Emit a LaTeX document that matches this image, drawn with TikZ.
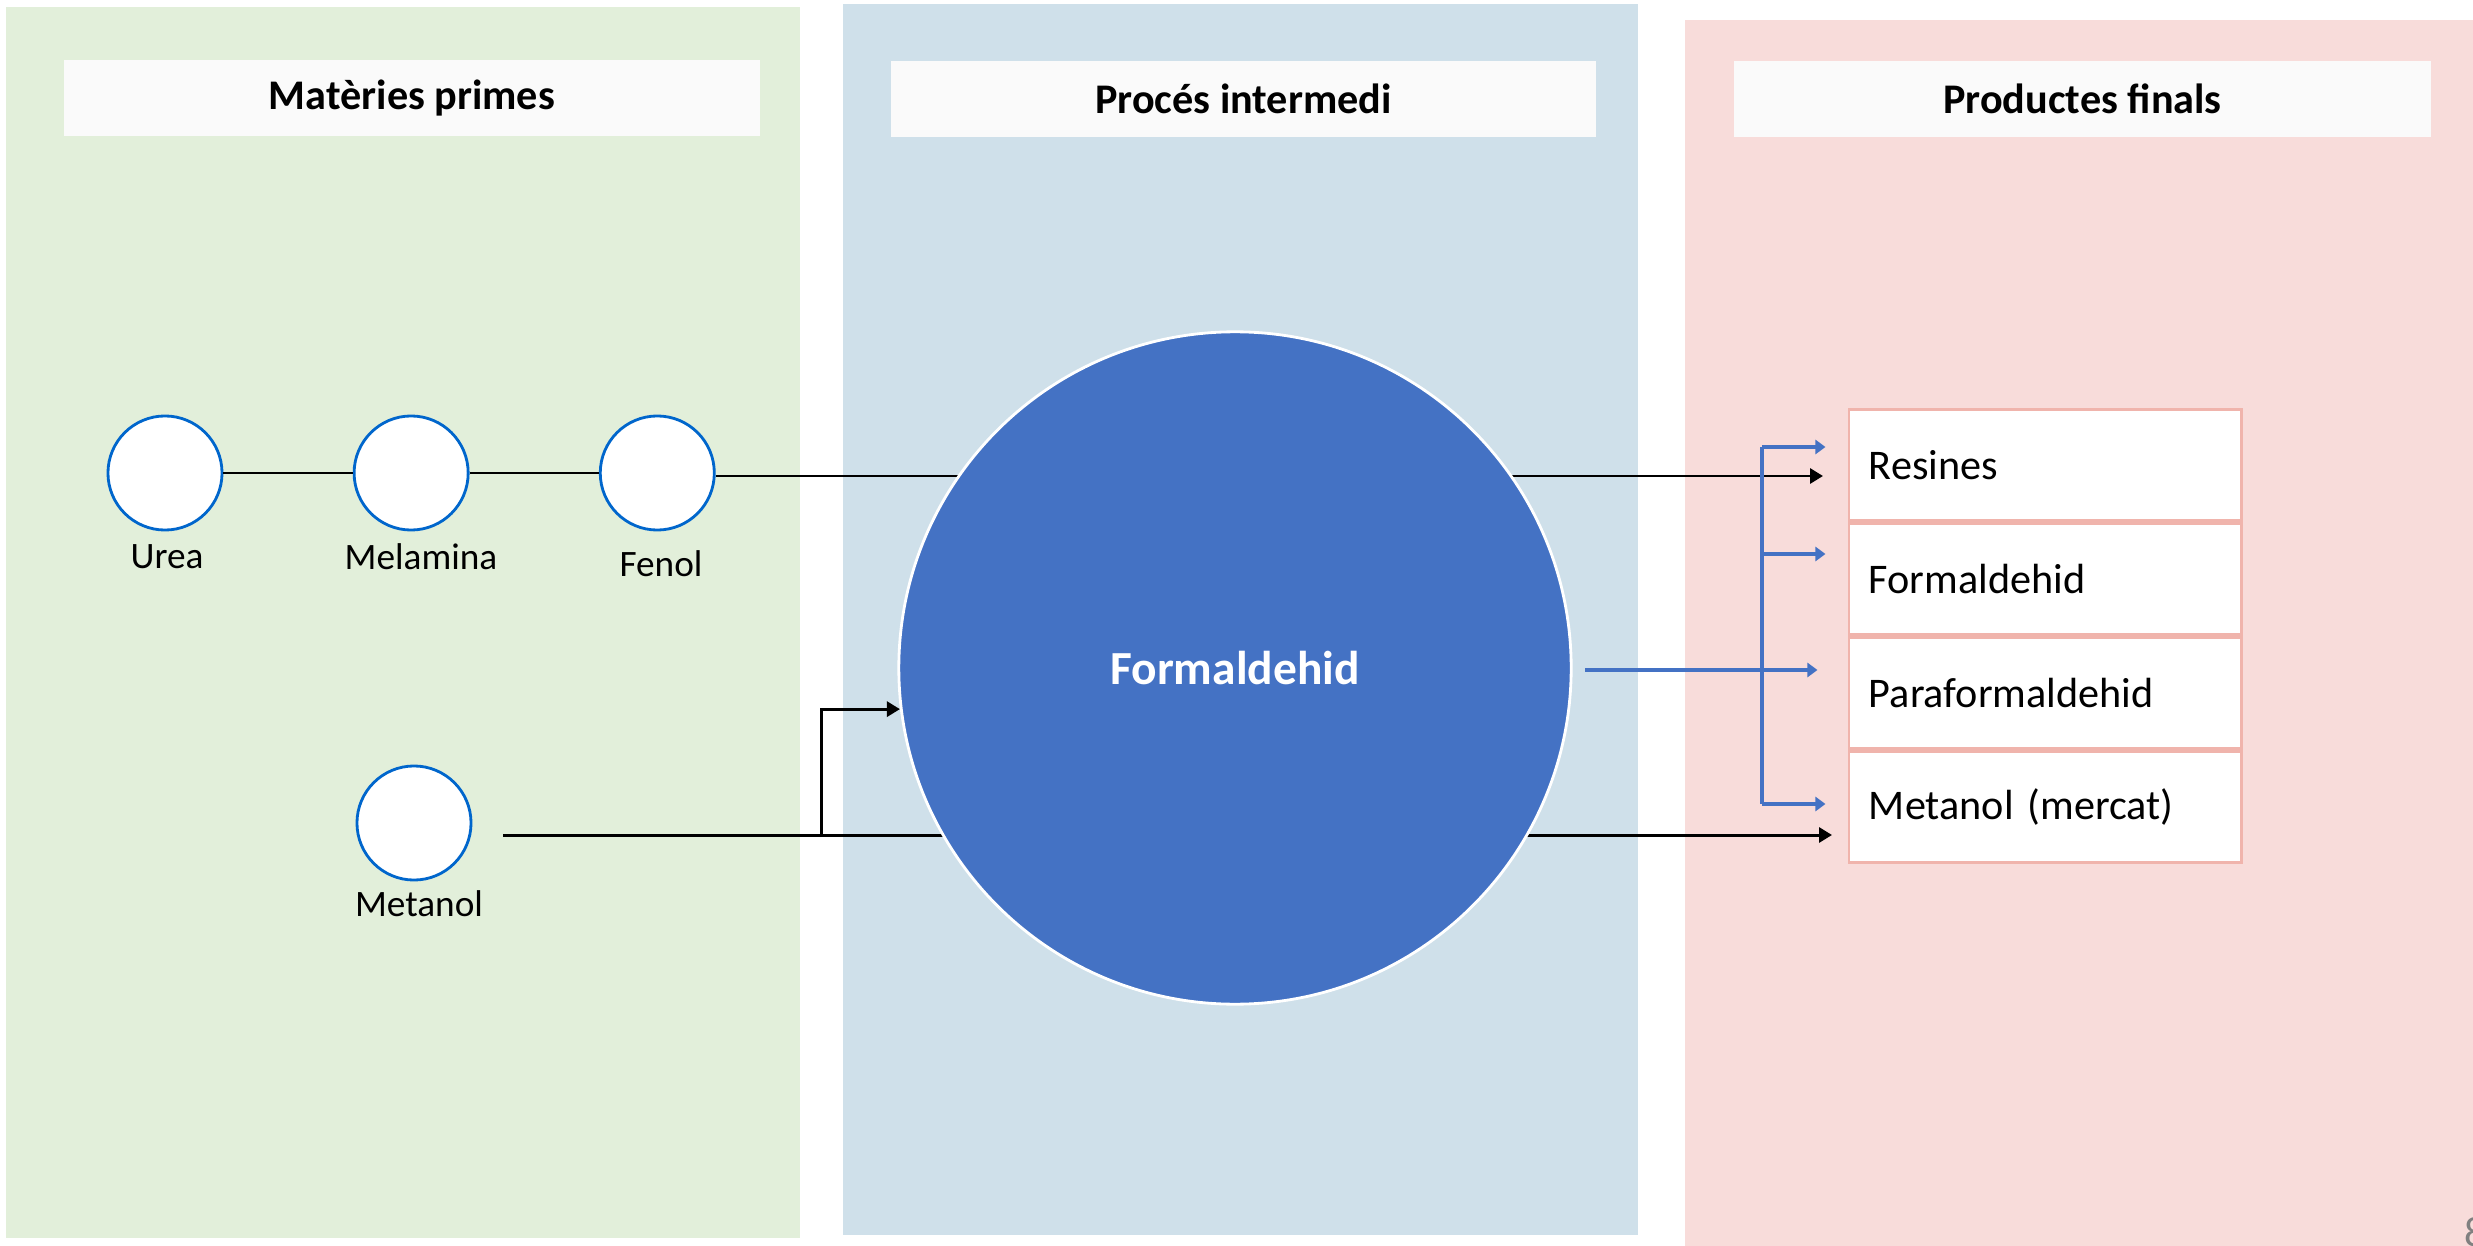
\documentclass[tikz,border=0pt]{standalone}
\usepackage{fontspec}
\setmainfont{Carlito}
\usepackage{xcolor}
\usetikzlibrary{arrows.meta,positioning}
\definecolor{matgreen}{HTML}{E2EFDA}
\definecolor{procblue}{HTML}{CFE0EA}
\definecolor{prodred}{HTML}{F8DCDA}
\definecolor{titlewhite}{HTML}{FAFAFA}
\definecolor{srcblue}{HTML}{0066CC}
\definecolor{hubblue}{HTML}{4472C4}
\definecolor{prodpink}{HTML}{F0B4AC}
\tikzset{%
  >={Triangle[width=1.5mm,length=1.3mm]},
  % Specifications for style of nodes:
       title/.style = {rectangle, fill=titlewhite, minimum height=0.76cm,
                       text centered, font=\fontsize{12pt}{14pt}\selectfont\bfseries},
      source/.style = {circle, draw=srcblue, line width=0.8pt, fill=white,
                       minimum size=1.14cm, inner sep=0pt},
    srclabel/.style = {font=\fontsize{10.6pt}{12pt}\selectfont},
         hub/.style = {circle, draw=white, line width=0.8pt, fill=hubblue,
                       minimum size=6.72cm, inner sep=0pt, text=white,
                       font=\fontsize{13.5pt}{16pt}\selectfont\bfseries},
     product/.style = {rectangle, draw=prodpink, line width=0.8pt, fill=white,
                       text width=3.52cm, inner xsep=0.2cm, align=left,
                       minimum height=1.11cm,
                       font=\fontsize{12pt}{14pt}\selectfont},
        flow/.style = {->, line width=0.85pt, black},
    blueflow/.style = {-{Triangle[width=1.4mm,length=1mm]}, line width=1.1pt,
                       hubblue},
}
\begin{document}
\begin{tikzpicture}[x=0.01cm, y=-0.01cm, node distance=2.46cm]
  \useasboundingbox (0,0) rectangle (2473,1246);
  % Background panels
  \fill[matgreen]  (6,7)    rectangle (800,1238);
  \fill[procblue]  (843,4)  rectangle (1638,1235);
  \fill[prodred]   (1685,20) rectangle (2473,1246);
  % Panel titles
  \node (tMat)  [title, minimum width=6.96cm] at (412,98)    {Matèries primes};
  \node (tProc) [title, minimum width=7.05cm] at (1243.5,99) {Procés intermedi};
  \node (tProd) [title, minimum width=6.97cm] at (2082.5,99) {Productes finals};
  % Raw materials
  \node (urea)     [source] at (165,473) {};
  \node (melamina) [source, right of=urea] {};
  \node (fenol)    [source, right of=melamina] {};
  \node (metanol)  [source] at (414,823) {};
  \node (ureaL)    [srclabel] at (167,557) {Urea};
  \node (melaminaL)[srclabel] at (421,557) {Melamina};
  \node (fenolL)   [srclabel] at (661,564) {Fenol};
  \node (metanolL) [srclabel] at (419,904) {Metanol};
  % Final products
  \node (resines) [product] at (2045,465) {Resines};
  \node (formP)   [product, below=0pt of resines] {Formaldehid};
  \node (paraf)   [product, below=0pt of formP]   {Paraformaldehid};
  \node (mercat)  [product, below=0pt of paraf]   {Metanol (mercat)};
  % Free ends of the connectors
  \coordinate (resinIn)  at (1823,476);
  \coordinate (metOut)   at (503,835);
  \coordinate (mercatIn) at (1832,835);
  \coordinate (elbow)    at (821,837);
  % Lines behind the hub
  \draw[line width=0.85pt] (urea) -- (melamina);
  \draw[line width=0.85pt] (melamina) -- (fenol);
  \draw[flow] (fenol.east |- resinIn) -- (resinIn);
  \draw[flow] (metOut) -- (mercatIn);
  % Intermediate process
  \node (form) [hub] at (1235,668) {Formaldehid};
  \draw[flow] (elbow) |- (form.187);
  % Distribution to the products
  \coordinate (formOut) at (1585,670);
  \coordinate (brTop)   at (1762,447);
  \coordinate (brMid)   at (1762,554);
  \coordinate (brBot)   at (1762,804);
  \draw[line width=1.1pt, hubblue] (brTop) -- (brBot);
  \draw[blueflow, shorten >=0.22cm] (brTop) -- (brTop -| resines.west);
  \draw[blueflow, shorten >=0.22cm] (brMid) -- (brMid -| formP.west);
  \draw[blueflow, shorten >=0.22cm] (brBot) -- (brBot -| mercat.west);
  \draw[blueflow, shorten >=0.3cm] (formOut) -- (formOut -| paraf.west);
  % Page number
  \node (page) [anchor=west, text=gray, inner sep=0pt,
                font=\fontsize{12pt}{14pt}\selectfont] at (2464,1232) {8};
\end{tikzpicture}
\end{document}
